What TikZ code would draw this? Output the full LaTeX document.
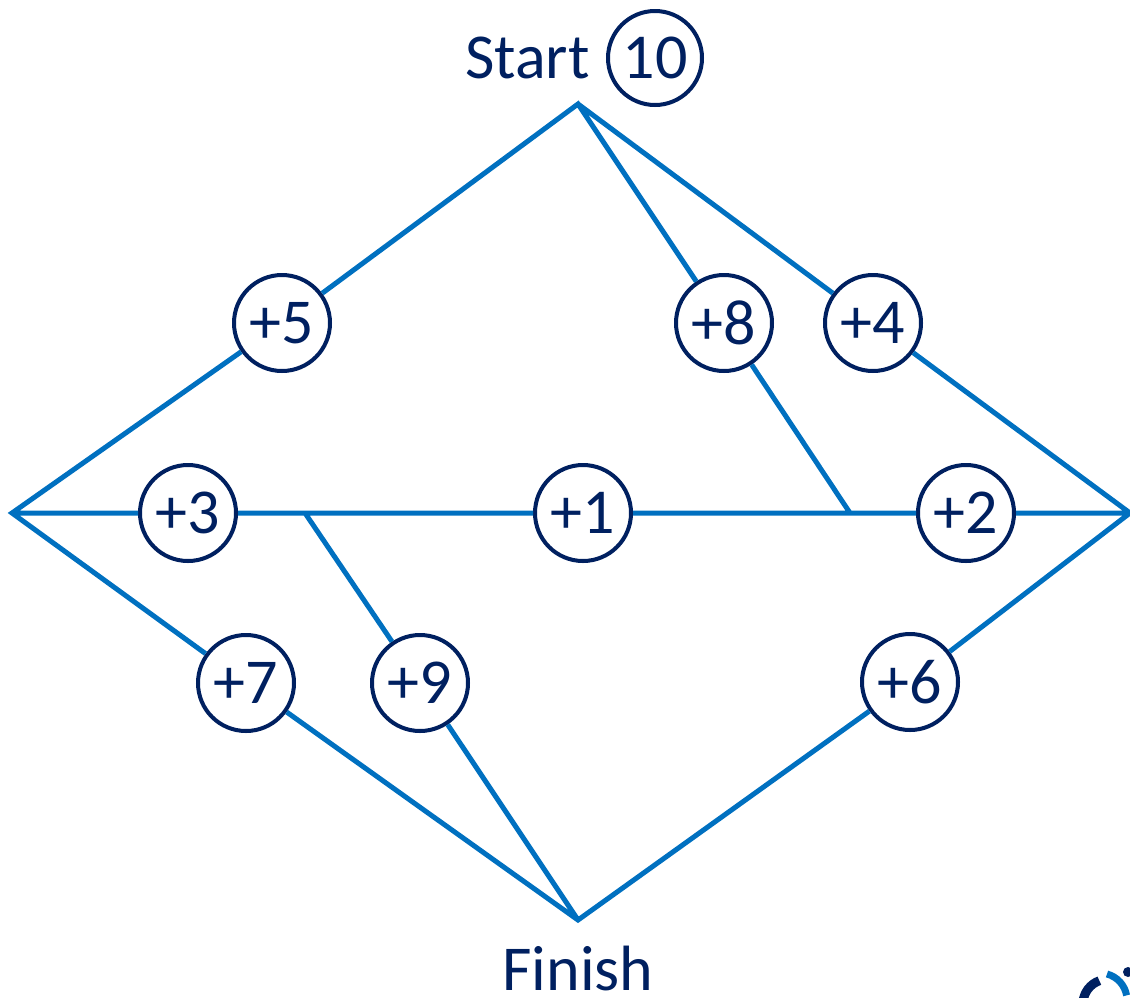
\documentclass[tikz,border=0pt]{standalone}
\usepackage{fontspec}
\setmainfont{Carlito}
\definecolor{navy}{HTML}{002060}
\definecolor{lineblue}{HTML}{0070C0}

\begin{document}
\begin{tikzpicture}[x=1pt,y=-1pt,font=\fontsize{64}{64}\selectfont,
    bonus/.style={circle,draw=navy,line width=4pt,fill=white,text=navy,
      minimum size=96pt,inner sep=0pt},
    link/.style={draw=lineblue,line width=5pt}]
    \useasboundingbox (0,0) rectangle (1130,997);
    % corners of the diamond
    \coordinate (s) at (578,104);
    \coordinate (l) at (12,513);
    \coordinate (r) at (1130,513);
    \coordinate (f) at (578,920);
    \coordinate (j1) at (305,513);
    \coordinate (j2) at (850,513);
    \node (5) [bonus] at (282,323) {+5};
    \node (8) [bonus] at (724,323) {+8};
    \node (4) [bonus] at (873,323) {+4};
    \node (3) [bonus] at (188,513) {+3};
    \node (1) [bonus] at (583,513) {+1};
    \node (2) [bonus] at (966,513) {+2};
    \node (7) [bonus] at (246,683) {+7};
    \node (9) [bonus] at (420,683) {+9};
    \node (6) [bonus] at (910,682) {+6};
    \node (10) [bonus,minimum size=94pt] at (655,58) {10};
    \node (start) [text=navy,anchor=east] at (593,58) {Start};
    \node (finish) [text=navy] at (578,968) {Finish};
    \path[link]
    (5) -- (s) -- (8)
    (s) -- (4)
    (5) -- (l) -- (7)
    (l) -- (3)
    (3) -- (1) (1) -- (2)
    (4) -- (r) -- (6)
    (2) -- (r)
    (8) -- (j2)
    (j1) -- (9)
    (7) -- (f) -- (6)
    (9) -- (f)
    ;
    % bit of logo in the corner
    \draw[navy,line width=9pt] (1083,1002) arc[start angle=-175,end angle=-110,radius=25];
    \draw[lineblue,line width=7pt] (1107,974) arc[start angle=-75,end angle=-10,radius=27];
    \fill[navy] (1128,972) circle (5);
\end{tikzpicture}
\end{document}
